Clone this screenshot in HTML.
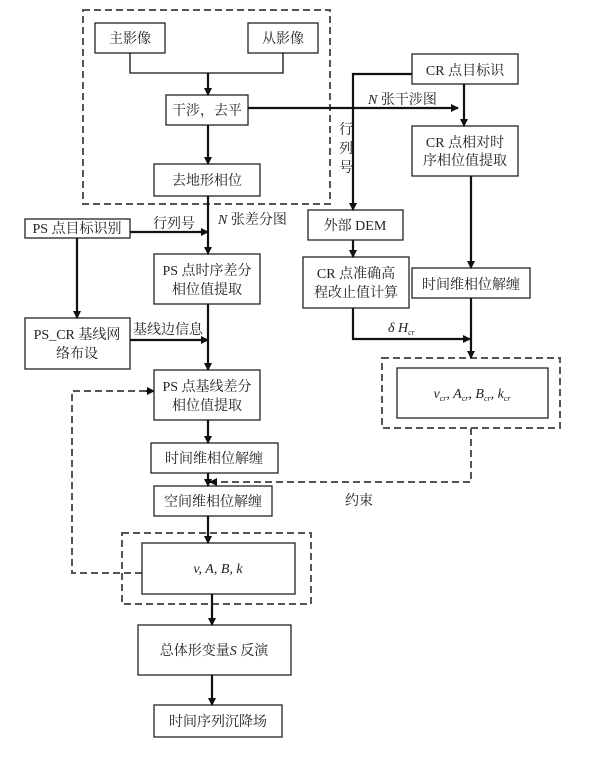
<!DOCTYPE html>
<html><head><meta charset="utf-8"><style>
body{margin:0;background:#fff}
svg text{font-family:"Liberation Serif","Noto Serif CJK SC",serif;font-size:14px;fill:#222}
</style></head><body>
<svg width="600" height="757" viewBox="0 0 600 757" xmlns="http://www.w3.org/2000/svg">
<defs><marker id="a" markerWidth="8" markerHeight="8" refX="7" refY="4" orient="auto" markerUnits="userSpaceOnUse"><path d="M0,0 L8,4 L0,8z" fill="#111"/></marker></defs>
<g fill="none" stroke="#555" stroke-width="2" stroke-dasharray="7,4">
<rect x="83" y="10" width="247" height="194"/>
<rect x="122" y="533" width="189" height="71"/>
<rect x="382" y="358" width="178" height="70"/>
<polyline points="142,573 72,573 72,391 148,391"/>
<polyline points="471,428 471,482 218,482"/>
</g>
<path d="M146,391 l8,0" stroke="#111" stroke-width="2" marker-end="url(#a)"/>
<path d="M216,482 l-6,0" stroke="#111" stroke-width="2" marker-end="url(#a)"/>
<g fill="#fff" stroke="#222" stroke-width="1.3">
<rect x="95" y="23" width="70" height="30"/><rect x="248" y="23" width="70" height="30"/>
<rect x="166" y="95" width="82" height="30"/><rect x="154" y="164" width="106" height="32"/>
<rect x="25" y="219" width="105" height="19"/><rect x="154" y="254" width="106" height="50"/>
<rect x="25" y="318" width="105" height="51"/><rect x="154" y="370" width="106" height="50"/>
<rect x="151" y="443" width="127" height="30"/><rect x="154" y="486" width="118" height="30"/>
<rect x="142" y="543" width="153" height="51"/><rect x="138" y="625" width="153" height="50"/>
<rect x="154" y="705" width="128" height="32"/>
<rect x="412" y="54" width="106" height="30"/><rect x="412" y="126" width="106" height="50"/>
<rect x="412" y="268" width="118" height="30"/><rect x="308" y="210" width="95" height="30"/>
<rect x="303" y="257" width="106" height="51"/><rect x="397" y="368" width="151" height="50"/>
</g>
<g fill="none" stroke="#111" stroke-width="2.2">
<polyline points="130,53 130,73 283,73 283,53" stroke-width="1.3"/>
<path d="M208,73 V95" marker-end="url(#a)"/>
<path d="M208,125 V164" marker-end="url(#a)"/>
<path d="M248,108 H458" marker-end="url(#a)"/>
<path d="M208,196 V254" marker-end="url(#a)"/>
<path d="M130,232 H208" marker-end="url(#a)"/>
<path d="M77,238 V318" marker-end="url(#a)"/>
<path d="M130,340 H208" marker-end="url(#a)"/>
<path d="M208,304 V370" marker-end="url(#a)"/>
<path d="M208,420 V443" marker-end="url(#a)"/>
<path d="M208,473 V486" marker-end="url(#a)"/>
<path d="M208,516 V543" marker-end="url(#a)"/>
<path d="M212,594 V625" marker-end="url(#a)"/>
<path d="M212,675 V705" marker-end="url(#a)"/>
<path d="M412,74 H353 V210" marker-end="url(#a)"/>
<path d="M464,84 V126" marker-end="url(#a)"/>
<path d="M471,176 V268" marker-end="url(#a)"/>
<path d="M353,240 V257" marker-end="url(#a)"/>
<path d="M353,308 V339 H470" marker-end="url(#a)"/>
<path d="M471,298 V358" marker-end="url(#a)"/>
</g>
<g text-anchor="middle">
<text x="130" y="43">主影像</text><text x="283" y="43">从影像</text>
<text x="207" y="115">干涉，去平</text><text x="207" y="185">去地形相位</text>
<text x="77" y="233">PS 点目标识别</text>
<text x="207" y="275">PS 点时序差分</text><text x="207" y="294">相位值提取</text>
<text x="77" y="339">PS_CR 基线网</text><text x="77" y="358">络布设</text>
<text x="207" y="391">PS 点基线差分</text><text x="207" y="410">相位值提取</text>
<text x="214" y="463">时间维相位解缠</text><text x="213" y="506">空间维相位解缠</text>
<text x="218" y="573" font-style="italic">v, A, B, k</text>
<text x="214" y="655">总体形变量<tspan font-style="italic">S</tspan> 反演</text>
<text x="218" y="726">时间序列沉降场</text>
<text x="465" y="75">CR 点目标识</text>
<text x="465" y="147">CR 点相对时</text><text x="465" y="165">序相位值提取</text>
<text x="471" y="289">时间维相位解缠</text>
<text x="355" y="230">外部 DEM</text>
<text x="356" y="278">CR 点准确高</text><text x="356" y="297">程改止值计算</text>
<text x="472" y="398" font-style="italic">v<tspan font-size="8" dy="3">cr</tspan><tspan dy="-3">, A</tspan><tspan font-size="8" dy="3">cr</tspan><tspan dy="-3">, B</tspan><tspan font-size="8" dy="3">cr</tspan><tspan dy="-3">, k</tspan><tspan font-size="8" dy="3">cr</tspan></text>
</g>
<text x="153" y="228">行列号</text>
<text x="133" y="334">基线边信息</text>
<text x="218" y="224"><tspan font-style="italic">N</tspan> 张差分图</text>
<text x="368" y="104"><tspan font-style="italic">N</tspan> 张干涉图</text>
<text x="339" y="134">行</text><text x="339" y="153">列</text><text x="339" y="172">号</text>
<text x="388" y="332" font-style="italic">δ H<tspan font-size="8" dy="3">cr</tspan></text>
<text x="345" y="505">约束</text>
</svg>
</body></html>
